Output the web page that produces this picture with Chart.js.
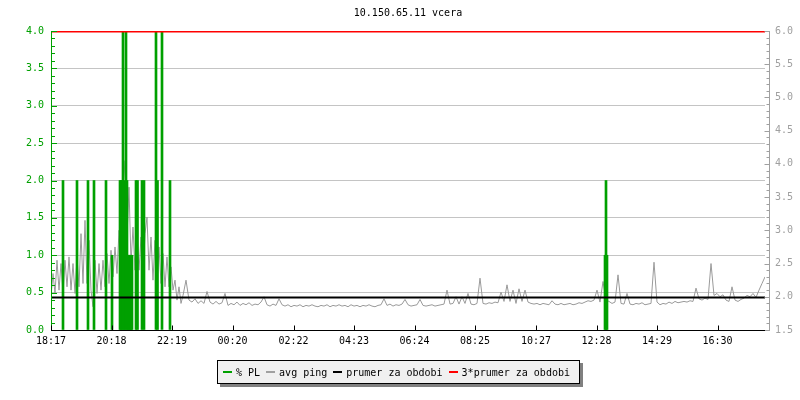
<!DOCTYPE html>
<html>
<head>
<meta charset="utf-8">
<script src="https://cdn.jsdelivr.net/npm/chart.js@4/dist/chart.umd.min.js"></script>
<style>
  body { margin: 0; background: #fff; }
  #wrap { position: relative; width: 800px; height: 400px; font-family: "DejaVu Sans Mono", monospace; font-size: 10px; }
  #title { position: absolute; left: 16px; top: 7px; width: 784px; text-align: center; line-height: 12px; color: #000; }
  #legend { position: absolute; left: 217px; top: 360px; width: 363px; height: 24px; box-sizing: border-box;
            border: 1px solid #000; background: #f0f0f0; box-shadow: 3px 3px 0 #808080;
            display: flex; align-items: center; padding-left: 5px; white-space: pre; }
  .sw { display: inline-block; width: 9px; height: 2px; margin-right: 4px; }
  .it { margin-right: 6px; }
</style>
</head>
<body>
<div id="wrap">
  <canvas id="graf" width="800" height="400"></canvas>
  <div id="title">10.150.65.11 vcera</div>
  <div id="legend"></div>
</div>
<script>
// casova osa: minuty od 18:17
const tickLabels = ['18:17', '20:18', '22:19', '00:20', '02:22', '04:23', '06:24', '08:25', '10:27', '12:28', '14:29', '16:30'];
const tickMinutes = [0, 121, 242, 363, 485, 606, 727, 848, 970, 1091, 1212, 1333];
const endMinute = 1428;

// avg ping [ms], prava osa
// vecer (18:17 - 22:41) po 4 minutach
const pingEarlyStep = 4;
const pingEarly = [
  2.0, 2.35, 2.05, 2.55, 2.1, 2.5, 2.05, 2.55, 2.15, 2.6, 2.1, 2.5, 2.05, 2.6, 2.15,
  2.95, 2.2, 3.15, 2.2, 2.85, 2.1, 1.85, 2.55, 2.05, 2.5, 2.1, 2.55, 2.15, 2.65, 2.2,
  2.7, 2.3, 2.75, 2.35, 3.0, 2.7, 3.6, 4.05, 2.9, 3.65, 2.5, 3.05, 2.4, 2.95, 2.4,
  2.9, 2.3, 2.95, 3.2, 2.4, 2.9, 2.25, 2.85, 2.2, 2.75, 2.2, 2.65, 2.15, 2.6, 2.15,
  2.45, 2.1, 2.25, 1.95, 2.15, 1.9, 2.02
];
// zbytek dne po 6 minutach, od 22:47
const pingLateStart = 270;
const pingLateStep = 6;
const pingLate = [
  2.25, 1.95, 1.92, 1.97, 1.9, 1.94, 1.9, 2.08, 1.92, 1.89, 1.93, 1.89, 1.91, 2.05, 1.87,
  1.9, 1.88, 1.92, 1.87, 1.9, 1.88, 1.91, 1.87, 1.89, 1.88, 1.92, 2.0, 1.88, 1.86, 1.89,
  1.87, 1.97, 1.88, 1.86, 1.88, 1.85, 1.87, 1.86, 1.88, 1.85, 1.87, 1.86, 1.88, 1.86, 1.85,
  1.87, 1.86, 1.88, 1.85, 1.87, 1.86, 1.88, 1.86, 1.87, 1.85, 1.88, 1.86, 1.87, 1.85, 1.87,
  1.86, 1.88, 1.86, 1.85, 1.87,
  1.88, 1.97, 1.87, 1.89, 1.86, 1.88, 1.87, 1.89, 1.96, 1.88, 1.86, 1.87, 1.88, 1.96, 1.87,
  1.86, 1.87, 1.88, 1.86, 1.87, 1.88, 1.89, 2.1, 1.89, 1.9, 2.0, 1.89, 2.0, 1.9, 2.05,
  1.89, 1.88, 1.9, 2.28, 1.9, 1.89, 1.91, 1.9, 1.92, 1.91, 2.07, 1.93, 2.18, 1.93, 2.1,
  1.9, 2.12, 1.93, 2.1, 1.92, 1.9, 1.89, 1.9, 1.88, 1.9, 1.89, 1.88, 1.94, 1.89, 1.88,
  1.9, 1.88, 1.89, 1.9, 1.88, 1.89, 1.91, 1.9,
  1.92, 1.94, 1.93, 1.95, 2.1, 1.92, 2.23, 1.95, 1.93, 1.9, 1.92, 2.33, 1.9, 1.89, 2.05,
  1.89, 1.88, 1.9, 1.89, 1.91, 1.88, 1.89, 1.9, 2.52, 1.92, 1.88, 1.9, 1.89, 1.92, 1.9,
  1.93, 1.91, 1.92, 1.93, 1.92, 1.94, 1.93, 2.13, 1.97, 1.95, 1.98, 1.96, 2.5, 2.02, 2.05,
  2.0, 2.03, 1.95, 1.93, 2.15, 1.95, 1.93, 1.96, 1.98, 2.02, 2.0, 2.05, 1.99, 2.1, 2.2,
  2.3
];

// % PL, leva osa (hodnoty nad 4 jsou oriznute)
const plMinutes = [24, 52, 74, 86, 110, 122, 138, 140, 142, 144, 146, 148, 150, 152, 154, 156, 158, 160, 162,
                   170, 173, 182, 186, 210, 213, 222, 238, 1108, 1110, 1112];
const plValues  = [2, 2, 2, 2, 2, 1, 2, 2, 2, 6, 1, 2, 6, 2, 1, 1, 1, 1, 1,
                   2, 2, 2, 2, 6, 2, 6, 2, 1, 2, 1];

const avgPing = 1.99;
const avgPing3 = 5.99;

const legendLabels = ['% PL', 'avg ping', 'prumer za obdobi', '3*prumer za obdobi'];
const legendColors = ['#00a000', '#a0a0a0', '#000000', '#ff0000'];

const GREEN = '#00a000', GRAY = '#a0a0a0';

document.getElementById('legend').innerHTML = legendLabels.map((t, i) =>
  '<span class="sw" style="background:' + legendColors[i] + '"></span><span class="it">' + t + '</span>').join('');

const pingPoints = pingEarly.map((v, i) => ({ x: i * pingEarlyStep, y: v }))
  .concat(pingLate.map((v, i) => ({ x: pingLateStart + i * pingLateStep, y: v })));

Chart.defaults.font.family = '"DejaVu Sans Mono", monospace';
Chart.defaults.font.size = 10;
Chart.defaults.color = '#000';

// osy kreslene jako v rrd: tick znacky dovnitr
const axisDeco = {
  id: 'axisDeco',
  afterDraw(chart) {
    const { ctx, chartArea: a, scales } = chart;
    ctx.save();
    ctx.lineWidth = 1;
    // leva
    ctx.strokeStyle = GREEN;
    ctx.beginPath();
    ctx.moveTo(a.left + 0.5, a.top); ctx.lineTo(a.left + 0.5, a.bottom);
    for (let k = 0; k <= 40; k++) {
      const y = Math.round(scales.y.getPixelForValue(k / 10)) + 0.5;
      ctx.moveTo(a.left, y); ctx.lineTo(a.left + (k % 5 === 0 ? 6 : 4), y);
    }
    ctx.stroke();
    // prava
    ctx.strokeStyle = GRAY;
    ctx.beginPath();
    const rx = a.right + 4.5;
    ctx.moveTo(rx, a.top); ctx.lineTo(rx, a.bottom + 1);
    for (let k = 15; k <= 60; k++) {
      const y = Math.round(scales.y2.getPixelForValue(k / 10)) + 0.5;
      ctx.moveTo(rx, y); ctx.lineTo(rx - (k % 5 === 0 ? 5 : 3), y);
    }
    ctx.stroke();
    // spodni
    ctx.strokeStyle = '#000';
    ctx.beginPath();
    const by = a.bottom + 0.5;
    ctx.moveTo(a.left, by); ctx.lineTo(a.right, by);
    tickMinutes.forEach(m => {
      const x = Math.round(scales.x.getPixelForValue(m)) + 0.5;
      ctx.moveTo(x, by); ctx.lineTo(x, by - 5);
    });
    ctx.stroke();
    ctx.restore();
  }
};

new Chart(document.getElementById('graf'), {
  type: 'line',
  data: {
    datasets: [
      {
        label: legendLabels[3],
        data: [{ x: 0, y: avgPing3 }, { x: endMinute, y: avgPing3 }],
        yAxisID: 'y2', borderColor: '#ff0000', borderWidth: 1.5, pointRadius: 0
      },
      {
        label: legendLabels[2],
        data: [{ x: 0, y: avgPing }, { x: endMinute, y: avgPing }],
        yAxisID: 'y2', borderColor: '#000', borderWidth: 2, pointRadius: 0
      },
      {
        type: 'bar',
        label: legendLabels[0],
        data: plMinutes.map((m, i) => ({ x: m, y: plValues[i] })),
        yAxisID: 'y', backgroundColor: GREEN, barThickness: 2, borderWidth: 0, grouped: false
      },
      {
        label: legendLabels[1],
        data: pingPoints,
        yAxisID: 'y2', borderColor: '#9a9a9a', borderWidth: 1, pointRadius: 0, tension: 0
      }
    ]
  },
  options: {
    responsive: false,
    animation: false,
    layout: { padding: { top: 31, left: 0, right: 0, bottom: 0 } },
    plugins: { legend: { display: false }, title: { display: false }, tooltip: { enabled: false } },
    scales: {
      x: {
        type: 'linear', min: 0, max: endMinute, offset: false,
        afterFit: s => { s.height = 70; },
        afterBuildTicks: s => { s.ticks = tickMinutes.map(v => ({ value: v })); },
        grid: { display: false, drawTicks: false },
        border: { display: false },
        ticks: { autoSkip: false, maxRotation: 0, padding: 5, color: '#000',
                 callback: (v, i) => tickLabels[i] }
      },
      y: {
        position: 'left', min: 0, max: 4,
        afterFit: s => { s.width = 51; },
        grid: { drawTicks: false, color: c => (c.tick.value > 0 && c.tick.value < 4) ? '#c4c4c4' : 'rgba(0,0,0,0)' },
        border: { display: false },
        ticks: { stepSize: 0.5, padding: 7, color: GREEN, callback: v => v.toFixed(1) }
      },
      y2: {
        position: 'right', min: 1.5, max: 6,
        afterFit: s => { s.width = 35; },
        grid: { drawOnChartArea: false, drawTicks: false },
        border: { display: false },
        ticks: { stepSize: 0.5, padding: 10, color: GRAY, callback: v => v.toFixed(1) }
      }
    }
  },
  plugins: [axisDeco]
});
</script>
</body>
</html>
